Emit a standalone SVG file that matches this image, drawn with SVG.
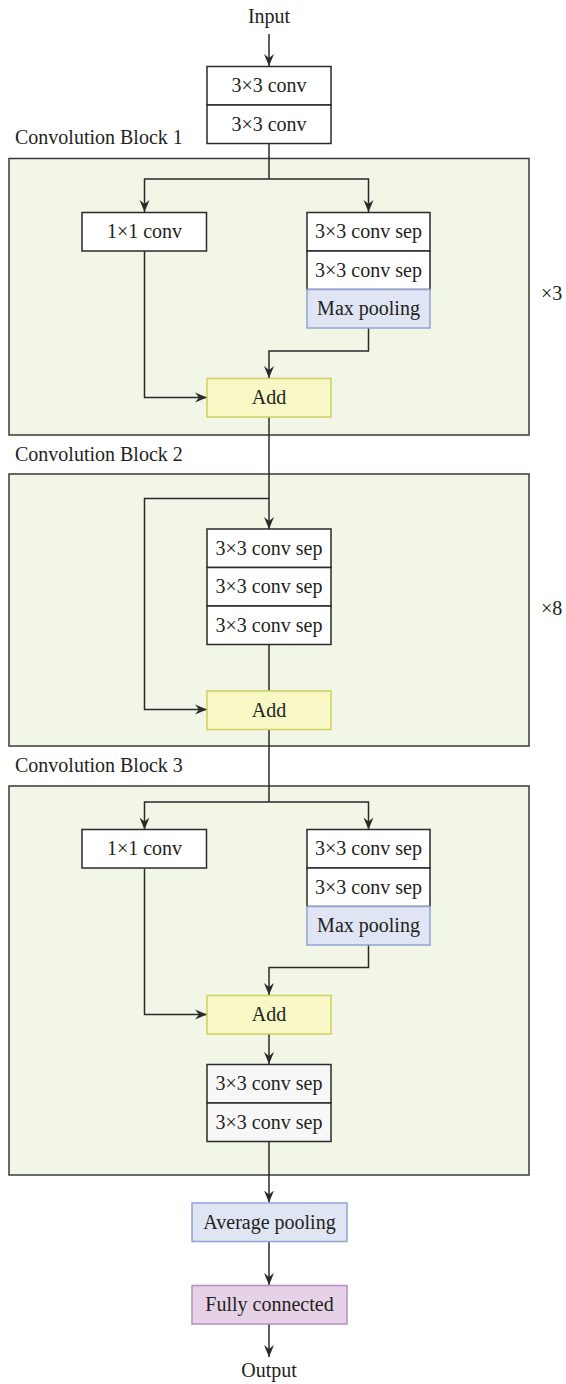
<svg xmlns="http://www.w3.org/2000/svg" width="566" height="1384" viewBox="0 0 566 1384" font-family="'Liberation Serif', 'DejaVu Serif', serif">
  <style>
    text { font-family: 'Liberation Serif', 'DejaVu Serif', serif; font-size: 20px; fill: #231f20; }
    .c { text-anchor: middle; }
    .panel { fill: #f2f6e7; stroke: #3a3a3a; stroke-width: 1.5; }
    .box { fill: #ffffff; stroke: #2a2a2a; stroke-width: 1.5; }
    .grey { fill: #f7f7f7; stroke: #2a2a2a; stroke-width: 1.5; }
    .add { fill: #f8f7c6; stroke: #cfcf5e; stroke-width: 1.5; }
    .pool { fill: #dfe5f3; stroke: #8ea4d4; stroke-width: 1.5; }
    .fc { fill: #e6d2e6; stroke: #b88cc4; stroke-width: 1.5; }
    .wire { fill: none; stroke: #2a2a2a; stroke-width: 1.5; }
    .arrow { fill: none; stroke: #2a2a2a; stroke-width: 1.5; marker-end: url(#head); }
  </style>
  <defs>
    <marker id="head" markerUnits="userSpaceOnUse" markerWidth="13" markerHeight="11" refX="12" refY="5.5" orient="auto">
      <path d="M0,0.5 L12,5.5 L0,10.5 L4,5.5 Z" fill="#2a2a2a"/>
    </marker>
  </defs>

  <!-- block panels -->
  <g id="panels">
    <rect class="panel" x="9" y="158.5" width="520" height="276.5"/>
    <rect class="panel" x="9" y="474" width="520" height="272"/>
    <rect class="panel" x="9" y="786" width="520" height="389"/>
  </g>

  <!-- block titles and repeat counts -->
  <g id="labels">
    <text x="269" y="23" class="c" id="input">Input</text>
    <text x="15" y="144">Convolution Block 1</text>
    <text x="15" y="461">Convolution Block 2</text>
    <text x="15" y="772">Convolution Block 3</text>
    <text x="541" y="300">×3</text>
    <text x="541" y="615">×8</text>
    <text x="269" y="1377" class="c" id="output">Output</text>
  </g>

  <!-- connectors -->
  <g id="connectors">
    <path class="arrow" d="M269,34 V66"/>
    <path class="wire" d="M269,143.5 V179"/>
    <path class="arrow" d="M269,179 H144.5 V212"/>
    <path class="arrow" d="M269,179 H368.5 V212"/>
    <path class="arrow" d="M368.5,328 V351 H269 V378"/>
    <path class="arrow" d="M144.5,251 V397.5 H207"/>
    <path class="arrow" d="M269,417 V529"/>
    <path class="arrow" d="M269,498.5 H144.5 V709.5 H207"/>
    <path class="wire" d="M269,644.5 V691"/>
    <path class="wire" d="M269,729.5 V802"/>
    <path class="arrow" d="M269,802 H144.5 V829.5"/>
    <path class="arrow" d="M269,802 H368.5 V829.5"/>
    <path class="arrow" d="M368.5,945 V967.5 H269 V995"/>
    <path class="arrow" d="M144.5,868.5 V1014.5 H207"/>
    <path class="arrow" d="M269,1034 V1064"/>
    <path class="arrow" d="M269,1142 V1202.5"/>
    <path class="arrow" d="M269,1242 V1285"/>
    <path class="arrow" d="M269,1324 V1357"/>
  </g>

  <!-- stem -->
  <g id="stem">
    <rect class="box" x="207" y="66.5" width="124" height="38.5"/>
    <text x="269" y="92" class="c">3×3 conv</text>
    <rect class="box" x="207" y="105" width="124" height="38.5"/>
    <text x="269" y="130.5" class="c">3×3 conv</text>
  </g>

  <!-- convolution block 1 -->
  <g id="b1-shortcut">
    <rect class="box" x="82" y="212.5" width="124.5" height="38.5"/>
    <text x="144.5" y="238" class="c">1×1 conv</text>
  </g>
  <g id="b1-main">
    <rect class="box" x="307" y="212.5" width="123" height="38.5"/>
    <text x="368.5" y="238" class="c">3×3 conv sep</text>
    <rect class="box" x="307" y="251" width="123" height="38.5"/>
    <text x="368.5" y="276.5" class="c">3×3 conv sep</text>
    <rect class="pool" x="307" y="289.5" width="123" height="38.5"/>
    <text x="368.5" y="315" class="c">Max pooling</text>
  </g>
  <g id="b1-add">
    <rect class="add" x="207" y="378.5" width="124" height="38.5"/>
    <text x="269" y="404" class="c">Add</text>
  </g>

  <!-- convolution block 2 -->
  <g id="b2-main">
    <rect class="box" x="207" y="529" width="124" height="38.5"/>
    <text x="269" y="554.5" class="c">3×3 conv sep</text>
    <rect class="box" x="207" y="567.5" width="124" height="38.5"/>
    <text x="269" y="593" class="c">3×3 conv sep</text>
    <rect class="box" x="207" y="606" width="124" height="38.5"/>
    <text x="269" y="631.5" class="c">3×3 conv sep</text>
  </g>
  <g id="b2-add">
    <rect class="add" x="207" y="691" width="124" height="38.5"/>
    <text x="269" y="716.5" class="c">Add</text>
  </g>

  <!-- convolution block 3 -->
  <g id="b3-shortcut">
    <rect class="box" x="82" y="829.5" width="124.5" height="38.5"/>
    <text x="144.5" y="855" class="c">1×1 conv</text>
  </g>
  <g id="b3-main">
    <rect class="box" x="307" y="829.5" width="123" height="38.5"/>
    <text x="368.5" y="855" class="c">3×3 conv sep</text>
    <rect class="box" x="307" y="868" width="123" height="38.5"/>
    <text x="368.5" y="893.5" class="c">3×3 conv sep</text>
    <rect class="pool" x="307" y="906.5" width="123" height="38.5"/>
    <text x="368.5" y="932" class="c">Max pooling</text>
  </g>
  <g id="b3-add">
    <rect class="add" x="207" y="995.5" width="124" height="38.5"/>
    <text x="269" y="1021" class="c">Add</text>
  </g>
  <g id="b3-exit">
    <rect class="grey" x="207" y="1064.5" width="124" height="38.5"/>
    <text x="269" y="1090" class="c">3×3 conv sep</text>
    <rect class="grey" x="207" y="1103" width="124" height="38.5"/>
    <text x="269" y="1128.5" class="c">3×3 conv sep</text>
  </g>

  <!-- head -->
  <g id="avg-pool">
    <rect class="pool" x="192" y="1203" width="155" height="38.5"/>
    <text x="269.5" y="1228.5" class="c">Average pooling</text>
  </g>
  <g id="fully-connected">
    <rect class="fc" x="192" y="1285.5" width="155" height="38.5"/>
    <text x="269.5" y="1311" class="c">Fully connected</text>
  </g>
</svg>
